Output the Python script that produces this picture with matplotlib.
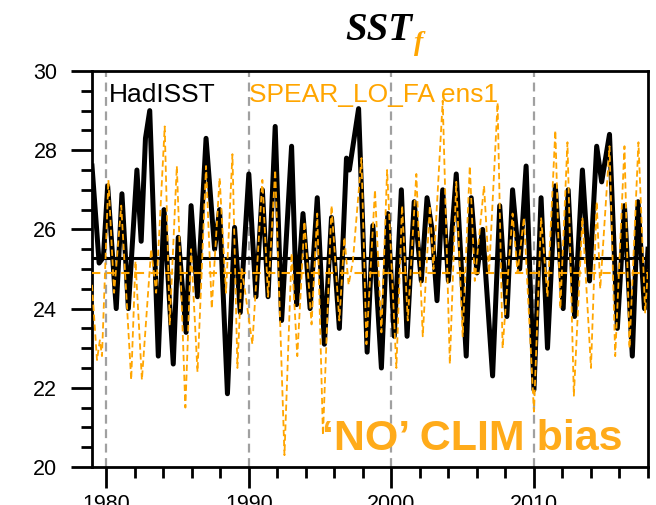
import numpy as np
import matplotlib
matplotlib.use("Agg")
import matplotlib.pyplot as plt
from matplotlib.ticker import MultipleLocator

# Monthly SST turning points (decimal year, degC)
hadisst_t = [1979.0, 1979.5, 1979.8, 1980.1, 1980.7, 1981.1, 1981.55, 1982.15, 1982.45,
             1982.75, 1983.05, 1983.65, 1984.05, 1984.7, 1985.05, 1985.6, 1985.95, 1986.4,
             1987.0, 1987.6, 1987.95, 1988.5, 1989.0, 1989.4, 1990.0, 1990.5, 1990.95,
             1991.35, 1991.85, 1992.3, 1993.0, 1993.35, 1993.8, 1994.3, 1994.8, 1995.3,
             1995.8, 1996.35, 1996.85, 1997.05, 1997.7, 1998.3, 1998.7, 1999.3, 1999.75,
             2000.2, 2000.7, 2001.1, 2001.6, 2002.1, 2002.5, 2002.85, 2003.2, 2003.6,
             2004.0, 2004.55, 2005.25, 2005.6, 2006.0, 2006.4, 2007.1, 2007.6, 2008.1,
             2008.5, 2009.0, 2009.45, 2010.0, 2010.5, 2010.95, 2011.5, 2012.05, 2012.4,
             2012.85, 2013.4, 2013.9, 2014.4, 2014.75, 2015.3, 2015.85, 2016.35, 2016.9,
             2017.3, 2017.75, 2018.0]
hadisst_sst = [27.6, 25.15, 25.3, 27.1, 24.0, 26.9, 24.0, 27.5, 25.7,
               28.3, 29.0, 22.8, 26.5, 22.6, 25.8, 23.4, 26.6, 24.3,
               28.3, 25.5, 26.5, 21.85, 26.05, 23.9, 27.4, 24.3, 27.0,
               24.3, 28.6, 23.7, 28.1, 24.1, 26.4, 24.0, 26.8, 23.1,
               26.3, 23.5, 27.8, 27.5, 29.05, 22.9, 26.1, 22.5, 26.4,
               23.3, 27.0, 23.3, 26.7, 24.7, 26.8, 26.0, 24.2, 27.0,
               24.7, 27.4, 22.8, 26.8, 24.9, 26.0, 22.3, 26.6, 23.8,
               27.0, 25.0, 27.6, 21.95, 26.8, 23.0, 27.1, 24.0, 27.0,
               23.8, 27.5, 24.7, 28.1, 27.2, 28.4, 23.5, 26.6, 22.8,
               26.7, 24.0, 25.5]

spear_t = [1979.0, 1979.35, 1979.55, 1979.7, 1980.15, 1980.55, 1981.05, 1981.75, 1982.05,
           1982.5, 1983.15, 1983.5, 1984.1, 1984.45, 1984.95, 1985.55, 1985.95, 1986.4,
           1987.0, 1987.4, 1987.95, 1988.4, 1988.85, 1989.2, 1989.5, 1989.75, 1990.25,
           1990.95, 1991.35, 1991.85, 1992.5, 1993.0, 1993.4, 1993.9, 1994.4, 1994.8,
           1995.2, 1995.8, 1996.35, 1996.7, 1997.0, 1997.3, 1997.9, 1998.25, 1998.85,
           1999.3, 1999.7, 2000.35, 2000.75, 2001.15, 2001.75, 2002.2, 2002.7, 2002.95,
           2003.6, 2004.1, 2004.55, 2005.0, 2005.5, 2005.85, 2006.5, 2006.85, 2007.45,
           2007.8, 2008.5, 2008.85, 2009.3, 2010.0, 2010.5, 2010.95, 2011.5, 2011.85,
           2012.35, 2012.8, 2013.4, 2014.0, 2014.4, 2014.65, 2015.3, 2015.7, 2016.35,
           2016.7, 2017.33, 2017.8, 2018.0]
spear_sst = [24.6, 22.7, 23.2, 22.8, 27.25, 24.4, 26.6, 22.2, 25.2,
             22.2, 25.5, 24.4, 28.6, 23.6, 27.6, 21.5, 25.5, 22.4,
             27.6, 24.0, 27.3, 24.4, 27.9, 22.5, 25.0, 24.4, 23.1,
             27.25, 24.3, 27.5, 20.3, 25.4, 22.8, 26.2, 23.6, 26.4,
             20.8, 26.6, 23.7, 25.8, 24.6, 25.2, 27.8, 23.1, 27.0,
             23.4, 27.5, 22.5, 26.6, 23.7, 27.4, 23.3, 26.6, 25.0,
             29.25, 22.6, 27.2, 23.3, 27.6, 24.7, 27.1, 24.9, 29.2,
             23.0, 26.4, 24.9, 26.3, 21.4, 26.3, 24.3, 28.5, 24.0,
             28.2, 21.8, 26.3, 22.5, 26.7, 24.5, 28.1, 22.8, 28.1,
             23.0, 28.2, 23.9, 25.0]

# climatological means of each series
hadisst_clim = 25.28
spear_clim = 24.9

decades = [1980, 1990, 2000, 2010]
orange = "#ffa500"

plt.rcParams["font.family"] = ["Liberation Sans", "DejaVu Sans"]

fig = plt.figure(figsize=(6.56, 5.05), dpi=100)
ax = fig.add_axes([92 / 656, 38 / 505, 556 / 656, 396 / 505])

for yr in decades:
    ax.axvline(yr, color="#a0a0a0", lw=1.6, dashes=(4, 2.5), zorder=1)

ax.plot(hadisst_t, hadisst_sst, color="black", lw=3.6, solid_joinstyle="round", zorder=3)
ax.axhline(hadisst_clim, color="black", lw=2.2, zorder=3)
ax.plot(spear_t, spear_sst, color=orange, lw=1.3, dashes=(3.5, 2), zorder=4)
ax.axhline(spear_clim, color=orange, lw=1.5, dashes=(4, 3), zorder=4)

ax.set_xlim(1979, 2018)
ax.set_ylim(20, 30)
ax.xaxis.set_major_locator(MultipleLocator(10))
ax.xaxis.set_minor_locator(MultipleLocator(2))
ax.yaxis.set_major_locator(MultipleLocator(2))
ax.yaxis.set_minor_locator(MultipleLocator(0.5))
ax.tick_params(which="both", direction="out", width=2, top=False, right=False,
               labelsize=15.5)
ax.tick_params(which="major", length=15)
ax.tick_params(which="minor", length=8)
ax.tick_params(axis="y", pad=10)
ax.tick_params(axis="x", pad=4.5)
for s in ax.spines.values():
    s.set_linewidth(2)

ax.text(0.031, 0.922, "HadISST", transform=ax.transAxes, fontsize=19,
        color="black", va="baseline", zorder=2)
ax.text(0.283, 0.922, "SPEAR_LO_FA ens1", transform=ax.transAxes, fontsize=19,
        color=orange, va="baseline", zorder=2)
ax.text(0.413, 0.044, "\u2018NO\u2019 CLIM bias", transform=ax.transAxes, fontsize=31,
        fontweight="bold", color="#ffab1a", va="baseline", zorder=5)

fig.text(345 / 656, 1 - 40 / 505, "SST", fontsize=28, family="Liberation Serif",
         fontweight="bold", style="italic", va="baseline")
fig.text(414 / 656, 1 - 50 / 505, "f", fontsize=20, family="Liberation Serif",
         fontweight="bold", style="italic", color=orange, va="baseline")

fig.savefig("out.png", dpi=100)
